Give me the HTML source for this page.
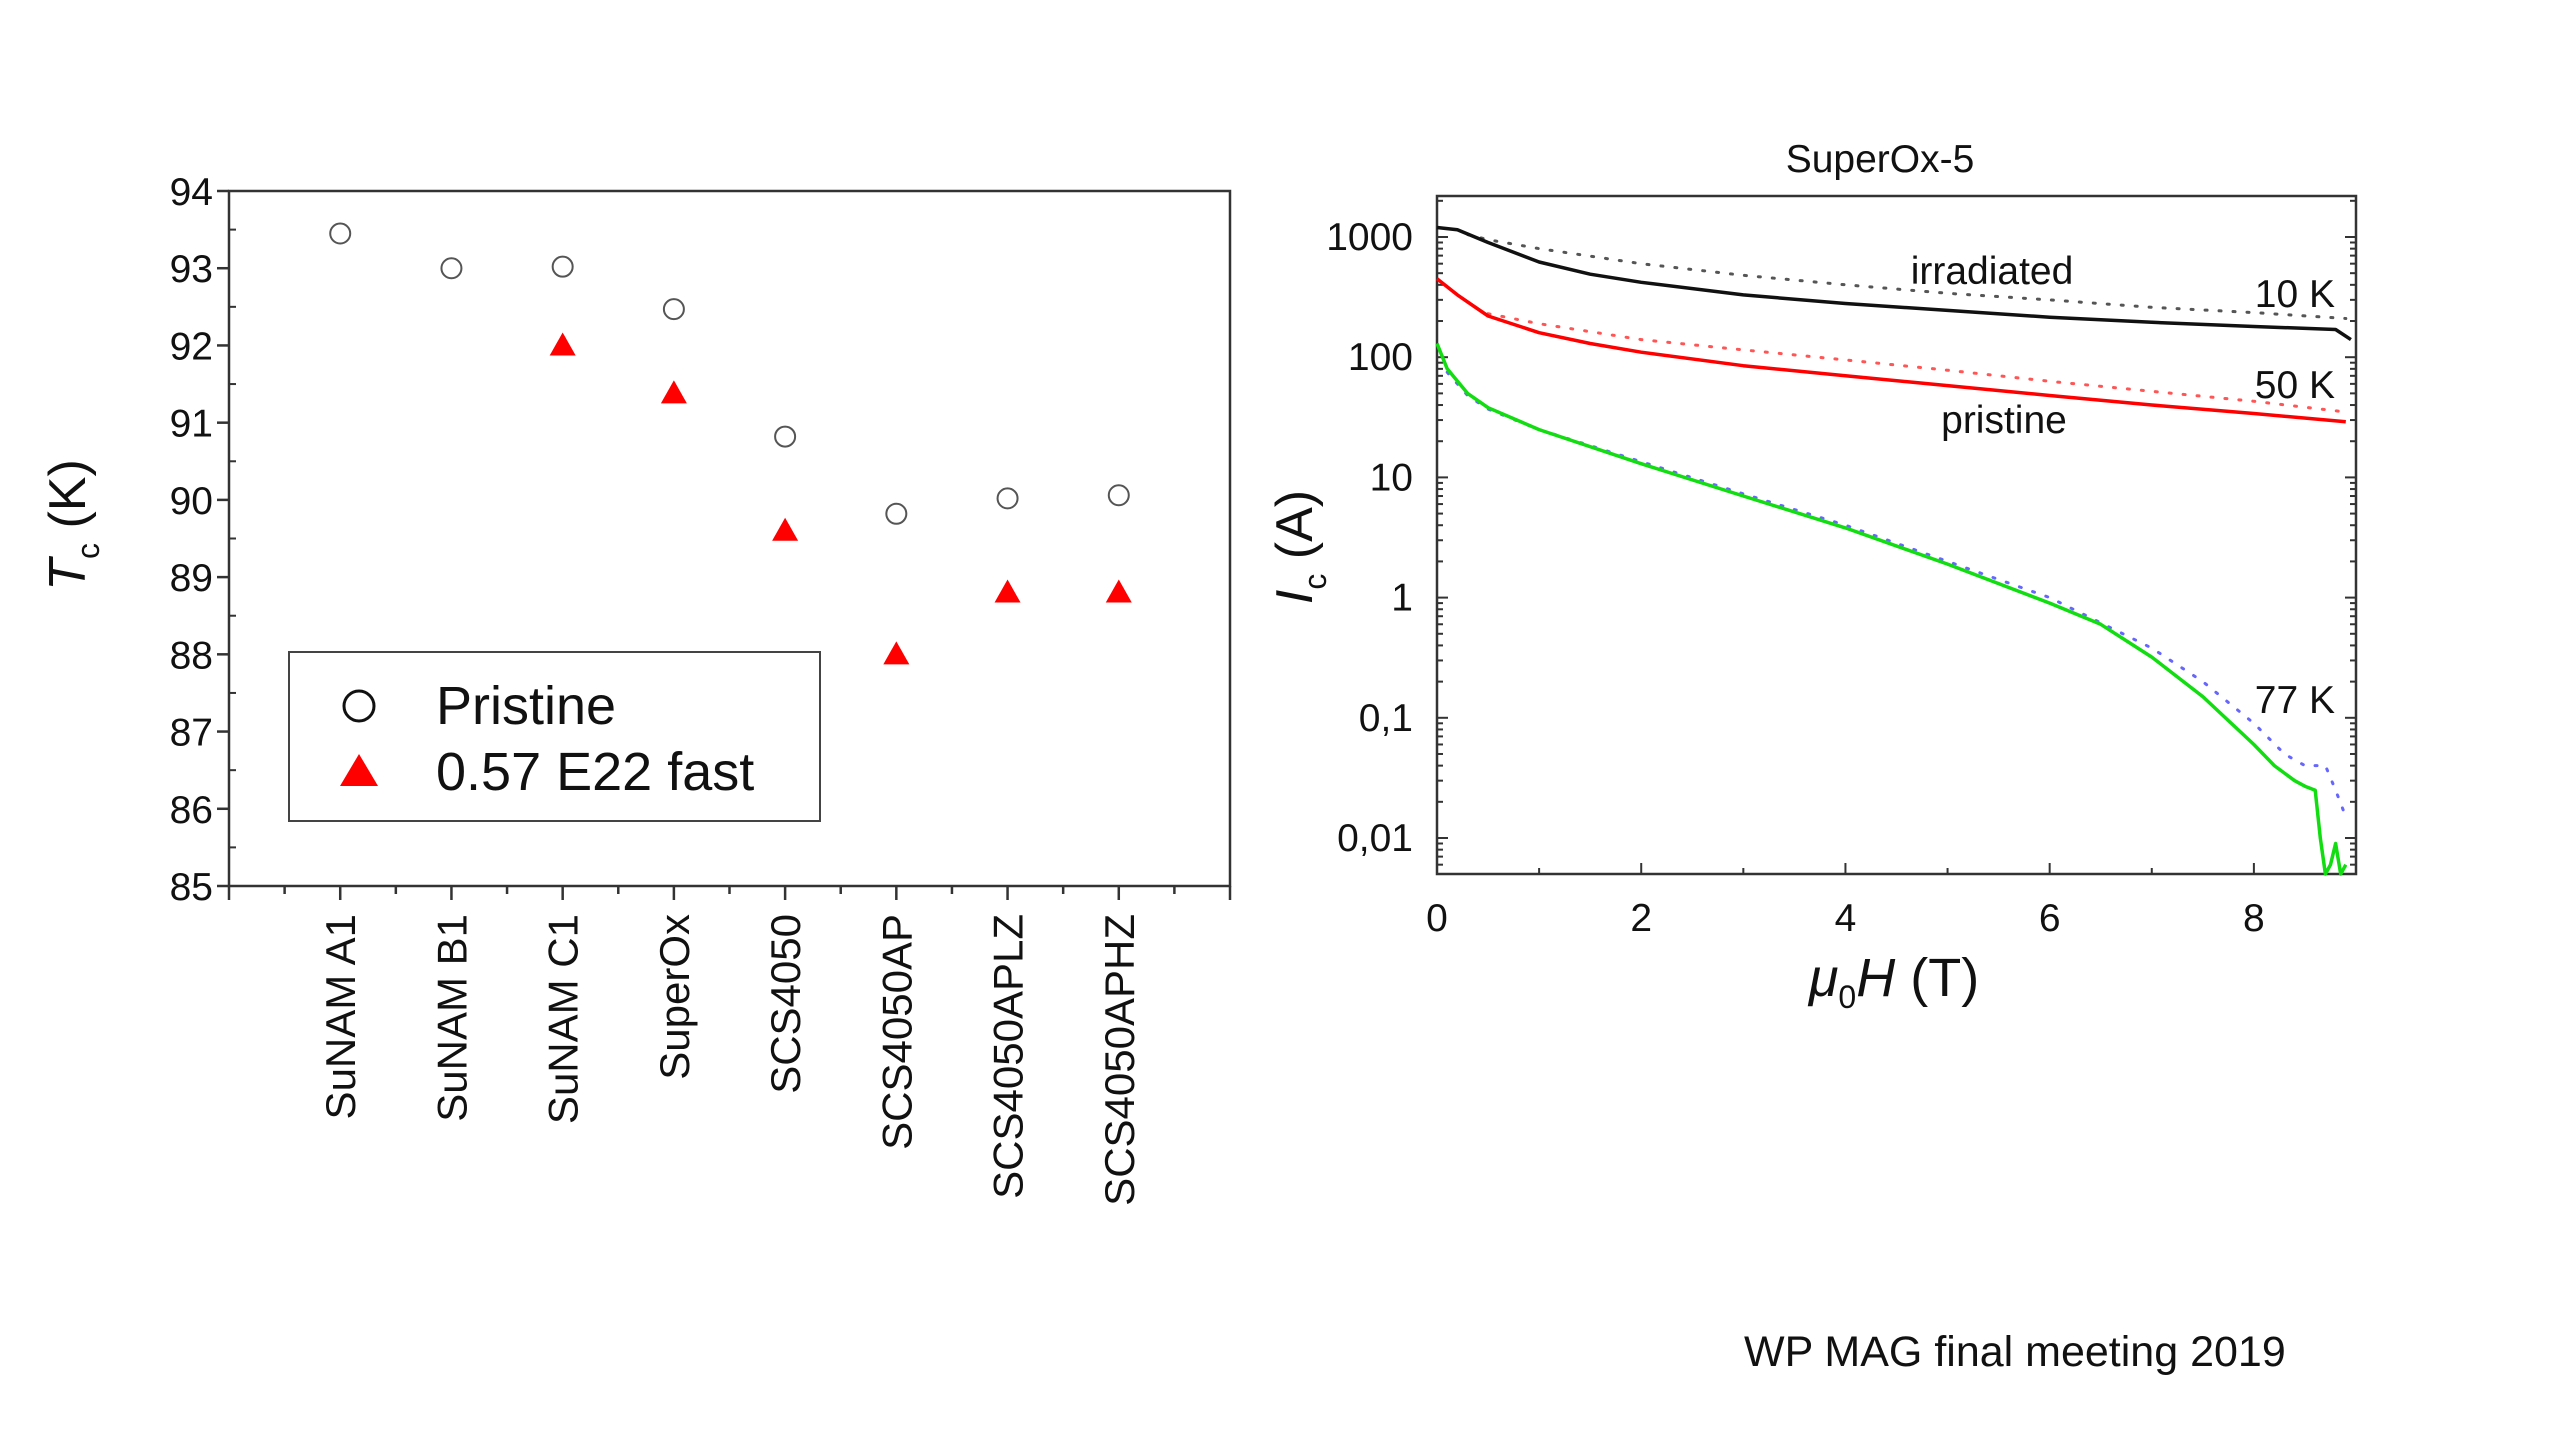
<!DOCTYPE html>
<html><head><meta charset="utf-8"><style>
html,body{margin:0;padding:0;background:#fff;}
svg{display:block;font-family:"Liberation Sans",Arial,sans-serif;}
</style></head><body>
<svg id="root" width="2560" height="1440" viewBox="0 0 2560 1440">
<g id="left"></g>
<g id="right"></g>
<text x="1744" y="1366" font-size="43" fill="#111">WP MAG final meeting 2019</text>
</svg>
<script>
const categories=["SuNAM A1","SuNAM B1","SuNAM C1","SuperOx","SCS4050","SCS4050AP","SCS4050APLZ","SCS4050APHZ"];
const pristineTc=[93.45,93.0,93.02,92.47,90.82,89.82,90.02,90.06];
const irradTc=[null,null,92.0,91.38,89.6,88.0,88.8,88.8];
const tcTicks=[85,86,87,88,89,90,91,92,93,94];

const xTicksH=[0,2,4,6,8];
const yTicksIc=[1000,100,10,1,0.1,0.01];
const yTickLabelsIc=["1000","100","10","1","0,1","0,01"];
const h10=[0,0.2,0.5,1,1.5,2,3,4,5,6,7,8,8.8,8.95];
const ic10solid=[1200,1150,900,620,490,420,330,280,245,215,195,180,170,140];
const h10dot=[0.3,0.5,1,2,3,4,5,6,7,8,8.9];
const ic10dot=[1050,950,800,600,480,400,340,300,260,235,210];
const h50=[0,0.2,0.5,1,1.5,2,3,4,5,6,7,8,8.9];
const ic50solid=[450,330,220,160,130,110,85,70,58,48,40,34,29];
const h50dot=[0.5,1,2,3,4,5,6,7,8,8.9];
const ic50dot=[230,190,140,115,95,78,63,52,43,35];
const h77=[0,0.1,0.3,0.5,1,2,3,4,5,6,6.5,7,7.5,8,8.2,8.4,8.5,8.6,8.65,8.7,8.75,8.8,8.85,8.9];
const ic77solid=[130,80,50,38,25,13,7,3.8,1.9,0.9,0.6,0.32,0.15,0.06,0.04,0.03,0.027,0.025,0.01,0.004,0.006,0.009,0.005,0.006];
const h77dot=[0.1,0.3,0.5,1,2,3,4,5,6,7,7.5,8,8.3,8.5,8.7,8.8,8.9];
const ic77dot=[75,48,37,25,13.5,7.3,4,2,1,0.38,0.2,0.09,0.05,0.04,0.04,0.025,0.015];

const NS="http://www.w3.org/2000/svg";
function mk(parent,tag,attrs,text){const e=document.createElementNS(NS,tag);for(const k in attrs)e.setAttribute(k,attrs[k]);if(text!==undefined)e.textContent=text;parent.appendChild(e);return e;}

// ---- left chart
const L=document.getElementById('left');
const lx0=229,lx1=1230,ly0=191,ly1=886;
const xc=i=>lx0+(i+1)*(lx1-lx0)/9;
const yt=v=>ly1-(v-85)*(ly1-ly0)/9;
let e=mk(L,'rect',{x:lx0,y:ly0,width:lx1-lx0,height:ly1-ly0,fill:'none',stroke:'#333','stroke-width':2.5});

tcTicks.forEach(v=>{
  mk(L,'line',{x1:lx0-12,x2:lx0,y1:yt(v),y2:yt(v),stroke:'#333','stroke-width':2.5});
  if(v<94) mk(L,'line',{x1:lx0,x2:lx0+7,y1:yt(v+0.5),y2:yt(v+0.5),stroke:'#333','stroke-width':2});
  e=mk(L,'text',{x:lx0-16,y:yt(v)+14,'text-anchor':'end','font-size':39,fill:'#111'},String(v));
  
});
for(let i=0;i<=18;i++){const x=lx0+i*(lx1-lx0)/18;mk(L,'line',{x1:x,x2:x,y1:ly1,y2:ly1+(i%2?8:14),stroke:'#333','stroke-width':2.5});}
categories.forEach((c,i)=>{
  e=mk(L,'text',{transform:`translate(${xc(i)+15},914) rotate(-90)`,'text-anchor':'end','font-size':42,fill:'#111'},c);
  
  e=mk(L,'circle',{cx:xc(i),cy:yt(pristineTc[i]),r:10,fill:'none',stroke:'#555','stroke-width':2});
  
  if(irradTc[i]!==null){const x=xc(i),y=yt(irradTc[i]);
    e=mk(L,'polygon',{points:`${x},${y-13} ${x-13},${y+10} ${x+13},${y+10}`,fill:'#f00'});
    }
});
e=mk(L,'text',{transform:'translate(85,525) rotate(-90)','text-anchor':'middle','font-size':52,fill:'#111'});

e.innerHTML='<tspan font-style="italic">T</tspan><tspan font-size="32" dy="14">c</tspan><tspan dy="-14">  (K)</tspan>';
const lg=mk(L,'g',{});
mk(lg,'rect',{x:289,y:652,width:531,height:169,fill:'#fff',stroke:'#444','stroke-width':2});
mk(lg,'circle',{cx:359,cy:706,r:15,fill:'none',stroke:'#111','stroke-width':3});
e=mk(lg,'text',{x:436,y:724,'font-size':54,fill:'#111'},'Pristine');
mk(lg,'polygon',{points:'359,754 340,786 378,786',fill:'#f00'});
e=mk(lg,'text',{x:436,y:790,'font-size':54,fill:'#111'},'0.57 E22 fast');

// ---- right chart
const R=document.getElementById('right');
const rx0=1437,rx1=2356,ry0=196,ry1=874;
const xh=v=>rx0+v*(rx1-rx0)/9;
const yl=v=>237-(Math.log10(v)-3)*120.2;
e=mk(R,'rect',{x:rx0,y:ry0,width:rx1-rx0,height:ry1-ry0,fill:'none',stroke:'#333','stroke-width':2.5});

e=mk(R,'text',{x:1880,y:172,'text-anchor':'middle','font-size':39,fill:'#111'},'SuperOx-5');

for(let d=-3;d<=3;d++){for(let m=1;m<10;m++){const v=m*Math.pow(10,d),y=yl(v);if(y<ry0||y>ry1)continue;const len=m==1?11:6;
  mk(R,'line',{x1:rx0,x2:rx0+len,y1:y,y2:y,stroke:'#333','stroke-width':2});
  mk(R,'line',{x1:rx1,x2:rx1-len,y1:y,y2:y,stroke:'#333','stroke-width':2});}}
yTicksIc.forEach((v,i)=>{e=mk(R,'text',{x:1413,y:yl(v)+13,'text-anchor':'end','font-size':39,fill:'#111'},yTickLabelsIc[i]);
  });
for(let v=0;v<=9;v++){mk(R,'line',{x1:xh(v),x2:xh(v),y1:ry1,y2:ry1-(v%2?6:11),stroke:'#333','stroke-width':2});}
xTicksH.forEach(v=>{e=mk(R,'text',{x:xh(v),y:931,'text-anchor':'middle','font-size':39,fill:'#111'},String(v));
  });
e=mk(R,'text',{x:1894,y:996,'text-anchor':'middle','font-size':54,fill:'#111'});

e.innerHTML='<tspan font-style="italic">μ</tspan><tspan font-size="32" dy="12">0</tspan><tspan dy="-12" font-style="italic">H</tspan><tspan>  (T)</tspan>';
e=mk(R,'text',{transform:'translate(1312,547) rotate(-90)','text-anchor':'middle','font-size':52,fill:'#111'});

e.innerHTML='<tspan font-style="italic">I</tspan><tspan font-size="32" dy="14">c</tspan><tspan dy="-14"> (A)</tspan>';
function curve(xs,ys,color,dotted,name){
  const d=xs.map((x,i)=>(i?'L':'M')+xh(x).toFixed(1)+','+Math.min(ry1,yl(ys[i])).toFixed(1)).join(' ');
  const a={d:d,fill:'none',stroke:color,'stroke-width':dotted?3:3.5,'stroke-linejoin':'round'};
  if(dotted){a['stroke-dasharray']='2 12';a['stroke-linecap']='round';}
  const p=mk(R,'path',a);
}
curve(h10dot,ic10dot,'#555',true,'curve-10k-pristine');
curve(h10,ic10solid,'#111',false,'curve-10k-irradiated');
curve(h50dot,ic50dot,'#f55',true,'curve-50k-pristine');
curve(h50,ic50solid,'#f00',false,'curve-50k-irradiated');
curve(h77dot,ic77dot,'#66f',true,'curve-77k-pristine');
curve(h77,ic77solid,'#1d1',false,'curve-77k-irradiated');
[['irradiated',1992,284,'middle'],['10 K',2335,307,'end'],['50 K',2335,398,'end'],['pristine',2004,433,'middle'],['77 K',2335,713,'end']].forEach(t=>{
  e=mk(R,'text',{x:t[1],y:t[2],'text-anchor':t[3],'font-size':39,fill:'#111'},t[0]);
  });
</script>
</body></html>
